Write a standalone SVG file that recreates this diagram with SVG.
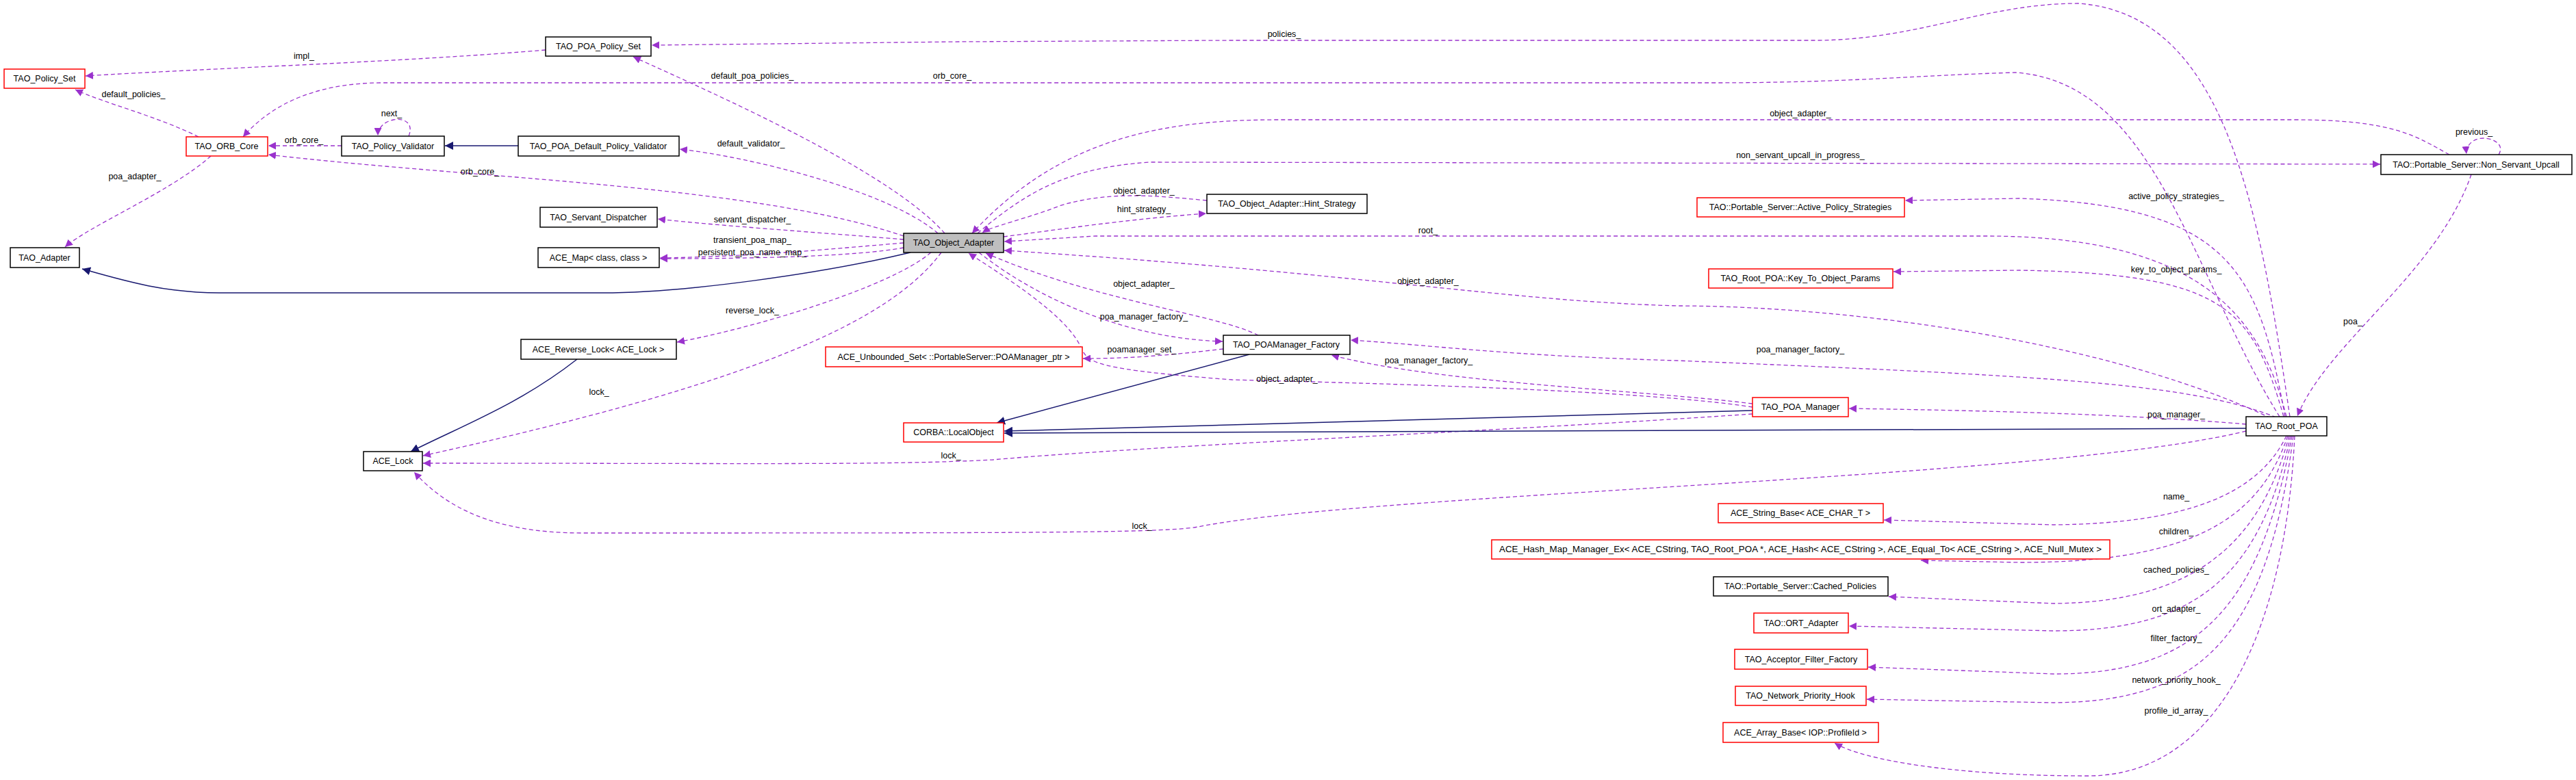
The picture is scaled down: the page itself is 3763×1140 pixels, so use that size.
<svg xmlns="http://www.w3.org/2000/svg" width="3763" height="1140" viewBox="0 0 3763 1140">
<style>
.n rect{fill:#fff;stroke:#000;stroke-width:1.5}
.r rect{stroke:#f00}
.g rect{fill:#bfbfbf}
text{font-family:"Liberation Sans",Arial,sans-serif;font-size:12.5px;fill:#000}
.n text{text-anchor:middle}
.l{text-anchor:middle}
.d{fill:none;stroke:#9a32cd;stroke-width:1.3;stroke-dasharray:6,4;marker-end:url(#pa)}
.s{fill:none;stroke:#191970;stroke-width:1.5;marker-end:url(#ba)}
</style>
<defs>
<marker id="pa" viewBox="0 0 10 10" refX="10" refY="5" markerWidth="11" markerHeight="11" markerUnits="userSpaceOnUse" orient="auto"><path d="M0,0L10,5L0,10z" fill="#9a32cd"/></marker>
<marker id="ba" viewBox="0 0 10 10" refX="10" refY="5" markerWidth="12" markerHeight="12" markerUnits="userSpaceOnUse" orient="auto"><path d="M0,0L10,5L0,10z" fill="#191970"/></marker>
</defs>
<rect width="3763" height="1140" fill="#fff"/>
<g id="edges">
<path class="d" d="M797,73 C600,90 300,100 125,111"/>
<path class="d" d="M290,200 C230,170 150,150 110,131"/>
<path class="d" d="M308,228 C250,280 130,330 95,361"/>
<path class="d" d="M499,213 L392,213"/>
<path class="d" d="M597,199 C605,180 590,172 575,175 C560,178 552,188 552,198"/>
<path class="s" d="M757,213 L650,213"/>
<path class="d" d="M1370,341 C1300,280 1100,230 993,218"/>
<path class="d" d="M1380,341 C1300,250 1050,140 925,83"/>
<path class="d" d="M1320,345 C1100,270 700,262 392,226"/>
<path class="d" d="M3330,609 C3200,400 3150,120 2944,106 C2800,110 2700,121 2500,121 L560,121 C450,121 390,160 355,200"/>
<path class="d" d="M3345,609 C3300,300 3250,20 3036,5 C2900,5 2800,59 2650,59 L1800,59 L1400,61 L952,66"/>
<path class="d" d="M1320,350 C1200,340 1050,330 961,320"/>
<path class="d" d="M1320,355 C1200,365 1100,375 964,377"/>
<path class="d" d="M1320,362 C1250,375 1100,378 964,378"/>
<path class="s" d="M1330,369 C1200,400 1000,428 880,428 L320,428 C240,428 180,410 120,393"/>
<path class="d" d="M1360,369 C1300,420 1100,480 989,500"/>
<path class="s" d="M843,525 C760,590 680,620 600,660"/>
<path class="d" d="M1375,369 C1300,470 1100,560 618,666"/>
<path class="d" d="M2560,605 C2200,630 1700,650 1450,672 C1300,680 1100,677 618,677"/>
<path class="d" d="M3281,630 C3000,700 2000,720 1750,770 C1700,779 1500,779 850,779 C720,779 650,740 605,690"/>
<path class="d" d="M1763,293 C1680,285 1620,280 1550,300 C1500,320 1450,330 1435,340"/>
<path class="d" d="M1466,346 C1550,335 1650,320 1762,312"/>
<path class="d" d="M3340,609 C3300,450 3200,345 2900,345 L1600,345 L1467,353"/>
<path class="d" d="M3335,620 C3100,500 2700,447 2450,447 C2200,440 2000,400 1467,366"/>
<path class="d" d="M3578,226 C3530,200 3500,175 3350,175 L1870,175 C1700,175 1550,200 1420,341"/>
<path class="d" d="M1428,341 C1500,280 1560,245 1680,237 L3477,240"/>
<path class="d" d="M3650,226 C3660,210 3640,202 3628,202 C3610,202 3602,215 3603,225"/>
<path class="d" d="M3610,255 C3560,400 3400,500 3356,608"/>
<path class="d" d="M3338,609 C3300,400 3260,300 2950,290 L2783,293"/>
<path class="d" d="M3336,609 C3290,450 3250,400 2950,395 L2766,397"/>
<path class="d" d="M3325,610 C3200,560 3000,550 2450,527 C2200,520 2100,505 1973,497"/>
<path class="d" d="M1838,490 C1780,460 1600,440 1440,370"/>
<path class="d" d="M1430,369 C1520,440 1650,495 1786,499"/>
<path class="d" d="M1787,510 C1700,520 1650,524 1582,524"/>
<path class="d" d="M2560,595 C2400,570 2000,560 1800,555 C1600,540 1590,530 1580,510 C1560,460 1460,400 1415,370"/>
<path class="d" d="M2560,590 C2400,570 2100,560 1945,519"/>
<path class="s" d="M1825,518 L1456,618"/>
<path class="s" d="M2560,600 L1467,630"/>
<path class="s" d="M3281,626 L1467,633"/>
<path class="d" d="M3281,620 C3100,605 2900,600 2701,597"/>
<path class="d" d="M3340,637 C3300,720 3200,765 3000,767 L2752,760"/>
<path class="d" d="M3342,637 C3300,760 3200,822 2950,822 L2806,819"/>
<path class="d" d="M3344,637 C3300,800 3200,880 3000,882 L2759,872"/>
<path class="d" d="M3346,637 C3300,850 3200,922 3000,922 L2701,915"/>
<path class="d" d="M3348,637 C3300,900 3200,985 3000,985 L2729,975"/>
<path class="d" d="M3350,637 C3310,950 3200,1025 3000,1027 L2727,1022"/>
<path class="d" d="M3352,637 C3340,900 3250,1134 3050,1134 C2850,1134 2720,1110 2680,1086"/>
</g>
<g id="labels">
<text class="l" x="444" y="86">impl_</text>
<text class="l" x="1099" y="115">default_poa_policies_</text>
<text class="l" x="195" y="142">default_policies_</text>
<text class="l" x="572" y="170">next_</text>
<text class="l" x="444" y="209">orb_core_</text>
<text class="l" x="1097" y="214">default_validator_</text>
<text class="l" x="701" y="255">orb_core_</text>
<text class="l" x="197" y="262">poa_adapter_</text>
<text class="l" x="1099" y="325">servant_dispatcher_</text>
<text class="l" x="1099" y="355">transient_poa_map_</text>
<text class="l" x="1099" y="373">persistent_poa_name_map_</text>
<text class="l" x="1099" y="458">reverse_lock_</text>
<text class="l" x="875" y="577">lock_</text>
<text class="l" x="1876" y="54">policies_</text>
<text class="l" x="1391" y="115">orb_core_</text>
<text class="l" x="1671" y="283">object_adapter_</text>
<text class="l" x="1671" y="310">hint_strategy_</text>
<text class="l" x="2086" y="341">root_</text>
<text class="l" x="2086" y="415">object_adapter_</text>
<text class="l" x="1671" y="419">object_adapter_</text>
<text class="l" x="1671" y="467">poa_manager_factory_</text>
<text class="l" x="1668" y="515">poamanager_set_</text>
<text class="l" x="2087" y="531">poa_manager_factory_</text>
<text class="l" x="1880" y="558">object_adapter_</text>
<text class="l" x="1389" y="670">lock_</text>
<text class="l" x="1668" y="773">lock_</text>
<text class="l" x="2630" y="170">object_adapter_</text>
<text class="l" x="2630" y="231">non_servant_upcall_in_progress_</text>
<text class="l" x="3614" y="197">previous_</text>
<text class="l" x="3179" y="291">active_policy_strategies_</text>
<text class="l" x="3179" y="398">key_to_object_params_</text>
<text class="l" x="3437" y="474">poa_</text>
<text class="l" x="2630" y="515">poa_manager_factory_</text>
<text class="l" x="3179" y="610">poa_manager_</text>
<text class="l" x="3179" y="730">name_</text>
<text class="l" x="3179" y="781">children_</text>
<text class="l" x="3179" y="837">cached_policies_</text>
<text class="l" x="3179" y="894">ort_adapter_</text>
<text class="l" x="3179" y="937">filter_factory_</text>
<text class="l" x="3179" y="998">network_priority_hook_</text>
<text class="l" x="3179" y="1043">profile_id_array_</text>
</g>
<g id="n1" class="n"><rect x="797" y="54" width="154" height="28"/><text x="874" y="72">TAO_POA_Policy_Set</text></g>
<g id="n2" class="n r"><rect x="6" y="101" width="118" height="28"/><text x="65" y="119">TAO_Policy_Set</text></g>
<g id="n3" class="n r"><rect x="272" y="200" width="119" height="28"/><text x="331" y="218">TAO_ORB_Core</text></g>
<g id="n4" class="n"><rect x="499" y="199" width="150" height="29"/><text x="574" y="218">TAO_Policy_Validator</text></g>
<g id="n5" class="n"><rect x="757" y="199" width="235" height="29"/><text x="874" y="218">TAO_POA_Default_Policy_Validator</text></g>
<g id="n6" class="n"><rect x="789" y="303" width="171" height="29"/><text x="874" y="322">TAO_Servant_Dispatcher</text></g>
<g id="n7" class="n"><rect x="786" y="362" width="177" height="29"/><text x="874" y="381">ACE_Map&lt; class, class &gt;</text></g>
<g id="n8" class="n"><rect x="15" y="362" width="101" height="29"/><text x="65" y="381">TAO_Adapter</text></g>
<g id="n9" class="n"><rect x="761" y="496" width="227" height="29"/><text x="874" y="515">ACE_Reverse_Lock&lt; ACE_Lock &gt;</text></g>
<g id="n10" class="n"><rect x="531" y="660" width="86" height="28"/><text x="574" y="678">ACE_Lock</text></g>
<g id="n11" class="n g"><rect x="1320" y="341" width="146" height="28"/><text x="1393" y="359">TAO_Object_Adapter</text></g>
<g id="n12" class="n"><rect x="1763" y="284" width="234" height="28"/><text x="1880" y="302">TAO_Object_Adapter::Hint_Strategy</text></g>
<g id="n13" class="n"><rect x="1787" y="490" width="185" height="28"/><text x="1879" y="508">TAO_POAManager_Factory</text></g>
<g id="n14" class="n r"><rect x="1206" y="507" width="375" height="29"/><text x="1393" y="526">ACE_Unbounded_Set&lt; ::PortableServer::POAManager_ptr &gt;</text></g>
<g id="n15" class="n r"><rect x="1320" y="618" width="146" height="28"/><text x="1393" y="636">CORBA::LocalObject</text></g>
<g id="n16" class="n"><rect x="3478" y="226" width="279" height="29"/><text x="3617" y="245">TAO::Portable_Server::Non_Servant_Upcall</text></g>
<g id="n17" class="n r"><rect x="2479" y="289" width="303" height="28"/><text x="2630" y="307">TAO::Portable_Server::Active_Policy_Strategies</text></g>
<g id="n18" class="n r"><rect x="2496" y="393" width="269" height="28"/><text x="2630" y="411">TAO_Root_POA::Key_To_Object_Params</text></g>
<g id="n19" class="n r"><rect x="2560" y="581" width="140" height="28"/><text x="2630" y="599">TAO_POA_Manager</text></g>
<g id="n20" class="n"><rect x="3281" y="609" width="118" height="28"/><text x="3340" y="627">TAO_Root_POA</text></g>
<g id="n21" class="n r"><rect x="2510" y="736" width="241" height="28"/><text x="2630" y="754">ACE_String_Base&lt; ACE_CHAR_T &gt;</text></g>
<g id="n22" class="n r"><rect x="2179" y="789" width="903" height="28"/><text x="2630" y="807" textLength="880" lengthAdjust="spacingAndGlyphs">ACE_Hash_Map_Manager_Ex&lt; ACE_CString, TAO_Root_POA *, ACE_Hash&lt; ACE_CString &gt;, ACE_Equal_To&lt; ACE_CString &gt;, ACE_Null_Mutex &gt;</text></g>
<g id="n23" class="n"><rect x="2503" y="843" width="255" height="28"/><text x="2630" y="861">TAO::Portable_Server::Cached_Policies</text></g>
<g id="n24" class="n r"><rect x="2562" y="896" width="138" height="29"/><text x="2631" y="915">TAO::ORT_Adapter</text></g>
<g id="n25" class="n r"><rect x="2534" y="949" width="194" height="29"/><text x="2631" y="968">TAO_Acceptor_Filter_Factory</text></g>
<g id="n26" class="n r"><rect x="2535" y="1003" width="191" height="28"/><text x="2630" y="1021">TAO_Network_Priority_Hook</text></g>
<g id="n27" class="n r"><rect x="2517" y="1056" width="227" height="29"/><text x="2630" y="1075">ACE_Array_Base&lt; IOP::ProfileId &gt;</text></g>
</svg>
